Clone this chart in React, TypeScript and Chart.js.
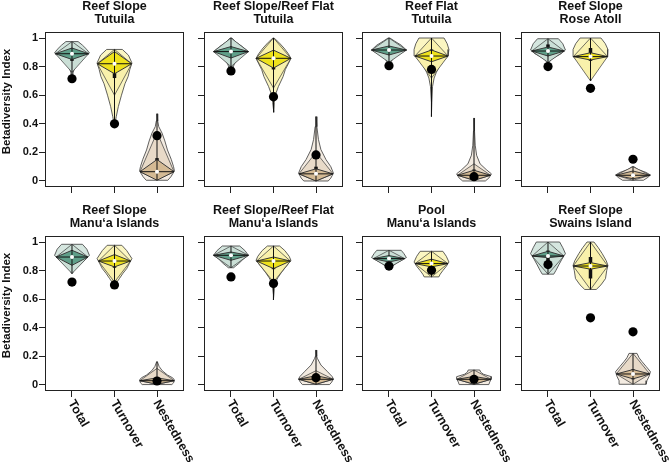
import React, { useEffect, useRef } from 'react';
import { Chart, registerables } from 'chart.js';

Chart.register(...registerables);

// ---------- data ----------
const categories = ['Total', 'Turnover', 'Nestedness'];
const categoryValues = [1, 2, 3];
const panelTitles = [
  ['Reef Slope', 'Tutuila'],
  ['Reef Slope/Reef Flat', 'Tutuila'],
  ['Reef Flat', 'Tutuila'],
  ['Reef Slope', 'Rose Atoll'],
  ['Reef Slope', 'Manu‘a Islands'],
  ['Reef Slope/Reef Flat', 'Manu‘a Islands'],
  ['Pool', 'Manu‘a Islands'],
  ['Reef Slope', 'Swains Island'],
];
const yTickValues = [0, 0.2, 0.4, 0.6, 0.8, 1];
const yTickLabels = ['0', '0.2', '0.4', '0.6', '0.8', '1'];
const yAxisTitle = 'Betadiversity Index';

// observed values (black dots) per panel: [Total, Turnover, Nestedness]
const observed = [
  [0.715, 0.40, 0.317], [0.77, 0.59, 0.182], [0.806, 0.78, 0.03], [0.80, 0.648, 0.152],
  [0.72, 0.70, 0.028], [0.756, 0.71, 0.051], [0.832, 0.802, 0.04], [0.842, 0.47, 0.372],
];
const medians = [
  [0.89, 0.82, 0.065], [0.905, 0.858, 0.05], [0.916, 0.874, 0.04], [0.909, 0.87, 0.04],
  [0.895, 0.867, 0.03], [0.907, 0.867, 0.04], [0.884, 0.849, 0.04], [0.902, 0.832, 0.077],
];
const lowerQuartiles = [
  [0.84, 0.72, 0.02], [0.87, 0.78, 0.02], [0.89, 0.84, 0.015], [0.88, 0.84, 0.02],
  [0.85, 0.82, 0.01], [0.88, 0.81, 0.015], [0.86, 0.82, 0.01], [0.86, 0.745, 0.04],
];
const upperQuartiles = [
  [0.92, 0.86, 0.16], [0.93, 0.9, 0.1], [0.94, 0.92, 0.08], [0.955, 0.93, 0.06],
  [0.92, 0.9, 0.05], [0.93, 0.885, 0.07], [0.9, 0.88, 0.06], [0.94, 0.895, 0.11],
];
const innerLow = [
  [0.85, 0.75, 0.005], [0.86, 0.79, 0.0], [0.881, 0.834, 0.005], [0.874, 0.846, 0.015],
  [0.837, 0.826, 0.005], [0.872, 0.814, 0.005], [0.86, 0.826, 0.005], [0.89, 0.81, 0.043],
];
const innerHigh = [
  [0.93, 0.905, 0.15], [0.94, 0.915, 0.085], [0.944, 0.916, 0.075], [0.937, 0.897, 0.07],
  [0.942, 0.912, 0.05], [0.93, 0.895, 0.065], [0.905, 0.88, 0.06], [0.935, 0.856, 0.108],
];
const outerLow = [
  [0.76, 0.6, 0.01], [0.8, 0.65, 0.0], [0.83, 0.72, 0.005], [0.83, 0.7, 0.005],
  [0.78, 0.72, 0.005], [0.82, 0.72, 0.005], [0.82, 0.756, 0.005], [0.775, 0.668, 0.005],
];
const outerHigh = [
  [0.975, 0.92, 0.34], [1.0, 1.0, 0.2], [1.0, 1.0, 0.12], [0.995, 1.0, 0.1],
  [0.984, 0.977, 0.116], [0.972, 0.972, 0.1], [0.942, 0.935, 0.105], [1.0, 1.0, 0.221],
];

// violin outlines: [value, relative density] from top to bottom
const totalProfiles = [
  [[0.975, 0.35], [0.95, 0.6], [0.92, 0.85], [0.895, 1], [0.87, 0.75], [0.85, 0.55], [0.82, 0.3], [0.79, 0.15], [0.76, 0.07], [0.73, 0.03]],
  [[1.0, 0.05], [0.97, 0.3], [0.94, 0.65], [0.905, 1], [0.88, 0.7], [0.85, 0.4], [0.82, 0.2], [0.79, 0.1], [0.77, 0.04]],
  [[1.0, 0.05], [0.98, 0.3], [0.95, 0.7], [0.916, 1], [0.89, 0.65], [0.87, 0.4], [0.85, 0.2], [0.83, 0.1], [0.81, 0.04]],
  [[0.995, 0.6], [0.96, 0.85], [0.916, 1], [0.89, 0.75], [0.87, 0.45], [0.85, 0.2], [0.83, 0.06], [0.82, 0.02]],
  [[0.984, 0.6], [0.95, 0.85], [0.907, 1], [0.88, 0.8], [0.85, 0.5], [0.82, 0.25], [0.8, 0.1], [0.78, 0.03]],
  [[0.972, 0.5], [0.94, 0.8], [0.907, 1], [0.88, 0.7], [0.85, 0.45], [0.83, 0.25], [0.82, 0.15]],
  [[0.942, 0.7], [0.92, 0.85], [0.891, 1], [0.87, 0.7], [0.85, 0.4], [0.83, 0.2], [0.815, 0.08]],
  [[1.0, 0.67], [0.96, 0.85], [0.919, 1], [0.88, 0.8], [0.84, 0.62], [0.8, 0.45], [0.775, 0.33]],
];
const turnoverProfiles = [
  [[0.92, 0.45], [0.88, 0.8], [0.825, 1], [0.78, 0.88], [0.73, 0.78], [0.68, 0.6], [0.6, 0.4], [0.52, 0.22], [0.45, 0.1], [0.41, 0.04]],
  [[1.0, 0.03], [0.97, 0.3], [0.93, 0.6], [0.89, 0.85], [0.858, 1], [0.82, 0.85], [0.78, 0.68], [0.73, 0.55], [0.66, 0.28], [0.6, 0.1], [0.55, 0.05], [0.48, 0.02]],
  [[1.0, 0.72], [0.96, 0.9], [0.92, 1], [0.874, 0.95], [0.84, 0.7], [0.8, 0.45], [0.76, 0.28], [0.72, 0.15], [0.66, 0.06], [0.55, 0.02], [0.45, 0.01]],
  [[1.0, 0.6], [0.96, 0.85], [0.92, 1], [0.87, 0.98], [0.84, 0.75], [0.8, 0.45], [0.77, 0.28], [0.74, 0.12], [0.71, 0.04], [0.70, 0.01]],
  [[0.977, 0.42], [0.94, 0.7], [0.884, 1], [0.85, 0.85], [0.814, 0.7], [0.78, 0.48], [0.744, 0.28], [0.72, 0.14], [0.70, 0.06]],
  [[0.972, 0.35], [0.94, 0.65], [0.9, 0.9], [0.872, 1], [0.84, 0.8], [0.79, 0.47], [0.75, 0.25], [0.72, 0.12], [0.68, 0.05], [0.63, 0.02], [0.595, 0.01]],
  [[0.935, 0.65], [0.9, 0.85], [0.86, 1], [0.83, 0.85], [0.8, 0.65], [0.775, 0.5], [0.756, 0.42]],
  [[1.0, 0.2], [0.96, 0.45], [0.919, 0.67], [0.87, 0.9], [0.837, 1], [0.8, 0.93], [0.744, 0.86], [0.7, 0.6], [0.668, 0.33]],
];
const nestednessProfiles = [
  [[0.47, 0.01], [0.42, 0.04], [0.38, 0.1], [0.335, 0.29], [0.28, 0.45], [0.217, 0.6], [0.15, 0.82], [0.1, 0.95], [0.07, 1.0], [0.03, 0.8], [0.005, 0.62]],
  [[0.45, 0.01], [0.38, 0.05], [0.29, 0.14], [0.22, 0.28], [0.15, 0.57], [0.1, 0.85], [0.055, 1], [0.02, 0.85], [0.0, 0.7]],
  [[0.44, 0.01], [0.35, 0.03], [0.25, 0.07], [0.18, 0.15], [0.12, 0.35], [0.08, 0.7], [0.05, 1], [0.02, 0.85], [0.0, 0.65]],
  [[0.1, 0.05], [0.08, 0.3], [0.06, 0.75], [0.042, 1], [0.025, 0.85], [0.005, 0.6]],
  [[0.163, 0.02], [0.13, 0.12], [0.1, 0.3], [0.07, 0.6], [0.05, 0.9], [0.035, 1], [0.015, 0.95], [0.003, 0.85]],
  [[0.244, 0.01], [0.2, 0.04], [0.186, 0.08], [0.14, 0.28], [0.093, 0.66], [0.06, 0.92], [0.042, 1], [0.02, 0.9], [0.003, 0.78]],
  [[0.105, 0.33], [0.09, 0.38], [0.075, 0.55], [0.058, 1], [0.04, 0.98], [0.02, 0.9], [0.003, 0.85]],
  [[0.221, 0.23], [0.19, 0.35], [0.163, 0.52], [0.13, 0.75], [0.093, 1], [0.06, 0.92], [0.03, 0.8], [0.005, 0.75]],
];
const profilesByCategory = [totalProfiles, turnoverProfiles, nestednessProfiles];

// ---------- styles ----------
const violinFill = ['#d5e6df', '#fbf6c2', '#f3ebe1'];
const outerFill = ['#cadfd6', '#f9f1ab', '#e8dac8'];
const innerFill = ['#5f9f89', '#efe21c', '#d4ba94'];
const FONT = '"Liberation Sans", Arial, Helvetica, sans-serif';
const HALF_WIDTH = 0.41;
const X_MIN = 0.365, X_MAX = 3.635, Y_MIN = -0.042, Y_MAX = 1.042;
const FRAME_LEFT = [45, 204, 362, 521];
const FRAME_TOP = [32, 236];
const FRAME_W = 139, FRAME_H = 155;
const MARGIN = 45;
const BOTTOM_SPACE = [10, 71];

Chart.defaults.font.family = FONT;

function widthAt(profile: number[][], y: number) {
  for (let i = 0; i < profile.length - 1; i++) {
    const [y0, w0] = profile[i];
    const [y1, w1] = profile[i + 1];
    if (y <= y0 && y >= y1) {
      const t = y0 === y1 ? 0 : (y0 - y) / (y0 - y1);
      return w0 + (w1 - w0) * t;
    }
  }
  return profile[profile.length - 1][1];
}

function buildDatasets(p: number) {
  const ds: any[] = [];
  categoryValues.forEach((c, k) => {
    const prof = profilesByCategory[k][p];
    const right = prof.map(([y, w]) => ({ x: c + w * HALF_WIDTH, y }));
    const left = prof.slice().reverse().map(([y, w]) => ({ x: c - w * HALF_WIDTH, y }));
    const outline = [...right, ...left, right[0]];
    const med = medians[p][k];
    const wm = widthAt(prof, med) * HALF_WIDTH;
    const poly = (data: any[], fill: string, order: number, bw = 0.8) => ({
      type: 'line', data, borderColor: '#3a3a3a', borderWidth: bw, backgroundColor: fill,
      fill: 'shape', pointRadius: 0, tension: 0, order,
    });
    const seg = (data: any[], bw: number, order: number) => ({
      type: 'line', data, borderColor: '#111', borderWidth: bw, fill: false,
      pointRadius: 0, tension: 0, borderCapStyle: 'butt', order,
    });
    ds.push(poly(outline, violinFill[k], 8));
    ds.push(poly([
      { x: c, y: outerHigh[p][k] }, { x: c + wm, y: med }, { x: c, y: outerLow[p][k] },
      { x: c - wm, y: med }, { x: c, y: outerHigh[p][k] },
    ], outerFill[k], 7, 0.7));
    ds.push(seg([{ x: c, y: lowerQuartiles[p][k] }, { x: c, y: upperQuartiles[p][k] }], 3.5, 6));
    ds.push(poly([
      { x: c, y: innerHigh[p][k] }, { x: c + wm, y: med }, { x: c, y: innerLow[p][k] },
      { x: c - wm, y: med }, { x: c, y: innerHigh[p][k] },
    ], innerFill[k], 5, 1));
    ds.push(seg([{ x: c - wm, y: med }, { x: c + wm, y: med }], 1, 4));
    ds.push(seg([{ x: c, y: prof[prof.length - 1][0] }, { x: c, y: prof[0][0] }], 1, 3));
    ds.push({
      type: 'line', data: [{ x: c, y: med }], showLine: false, pointRadius: 2,
      pointBackgroundColor: '#ffffff', pointBorderWidth: 0, order: 2,
    });
    ds.push({
      type: 'line', data: [{ x: c, y: observed[p][k] }], showLine: false, pointRadius: 4.6,
      pointBackgroundColor: '#000000', pointBorderWidth: 0, order: 1,
    });
  });
  return ds;
}

function Panel({ idx }: { idx: number }) {
  const ref = useRef<HTMLCanvasElement | null>(null);
  const col = idx % 4;
  const row = Math.floor(idx / 4);
  const left = FRAME_LEFT[col] - MARGIN;
  const top = FRAME_TOP[row] - 32;
  const width = MARGIN + FRAME_W + MARGIN;
  const height = 32 + FRAME_H + BOTTOM_SPACE[row];

  useEffect(() => {
    const framePlugin = {
      id: 'frame',
      afterDraw(chart: any) {
        const { ctx, chartArea: a } = chart;
        ctx.save();
        ctx.strokeStyle = '#222';
        ctx.lineWidth = 1;
        ctx.strokeRect(Math.round(a.left) + 0.5, Math.round(a.top) + 0.5,
          Math.round(a.right - a.left) - 1, Math.round(a.bottom - a.top) - 1);
        ctx.fillStyle = '#111';
        if (col === 0) {
          ctx.save();
          ctx.font = `bold 11.5px ${FONT}`;
          ctx.textAlign = 'center';
          ctx.textBaseline = 'middle';
          ctx.translate(7, (a.top + a.bottom) / 2 - 8);
          ctx.rotate(-Math.PI / 2);
          ctx.fillText(yAxisTitle, 0, 0);
          ctx.restore();
        }
        if (row === 1) {
          const xs = chart.scales.x;
          ctx.font = `bold 12.5px ${FONT}`;
          ctx.textAlign = 'left';
          ctx.textBaseline = 'middle';
          categories.forEach((name, i) => {
            ctx.save();
            ctx.translate(xs.getPixelForValue(categoryValues[i]) - 1, a.bottom + 10);
            ctx.rotate(Math.PI / 3);
            ctx.fillText(name, 0, 0);
            ctx.restore();
          });
        }
        ctx.restore();
      },
    };

    const chart = new Chart(ref.current as HTMLCanvasElement, {
      type: 'line',
      data: { datasets: buildDatasets(idx) },
      plugins: [framePlugin],
      options: {
        responsive: false,
        animation: false,
        events: [],
        layout: { padding: { left: 0, right: MARGIN, top: 0, bottom: 0 } },
        plugins: {
          legend: { display: false },
          tooltip: { enabled: false },
          title: {
            display: true,
            fullSize: false,
            text: panelTitles[idx],
            color: '#111',
            font: { size: 12.5, weight: 'bold', lineHeight: 1.04, family: FONT },
            padding: { top: 0, bottom: 6 },
          },
        },
        scales: {
          x: {
            type: 'linear',
            min: X_MIN,
            max: X_MAX,
            afterBuildTicks: (s: any) => { s.ticks = categoryValues.map((v) => ({ value: v })); },
            afterFit: (s: any) => { s.height = BOTTOM_SPACE[row]; s.paddingLeft = 0; s.paddingRight = 0; },
            ticks: { display: false },
            grid: { display: true, drawOnChartArea: false, drawTicks: true, tickLength: 6, color: '#222', lineWidth: 1 },
            border: { display: false },
          },
          y: {
            type: 'linear',
            min: Y_MIN,
            max: Y_MAX,
            afterBuildTicks: (s: any) => { s.ticks = yTickValues.map((v) => ({ value: v })); },
            afterFit: (s: any) => { s.width = MARGIN; s.paddingTop = 0; s.paddingBottom = 0; },
            ticks: {
              display: col === 0,
              padding: 1,
              color: '#111',
              font: { size: 11, weight: 'bold', family: FONT },
              callback: (v: any) => {
                const i = yTickValues.indexOf(Number(v));
                return i >= 0 ? yTickLabels[i] : '';
              },
            },
            grid: { display: true, drawOnChartArea: false, drawTicks: true, tickLength: 6, color: '#222', lineWidth: 1 },
            border: { display: false },
          },
        },
      } as any,
    } as any);
    return () => chart.destroy();
  }, [idx]);

  return (
    <canvas
      ref={ref}
      width={width}
      height={height}
      style={{ position: 'absolute', left, top, width, height, display: 'block' }}
    />
  );
}

export default function App() {
  return (
    <div style={{ position: 'absolute', left: 0, top: 0, width: 669, height: 462, overflow: 'hidden', background: '#ffffff' }}>
      {panelTitles.map((_, i) => <Panel key={i} idx={i} />)}
    </div>
  );
}
